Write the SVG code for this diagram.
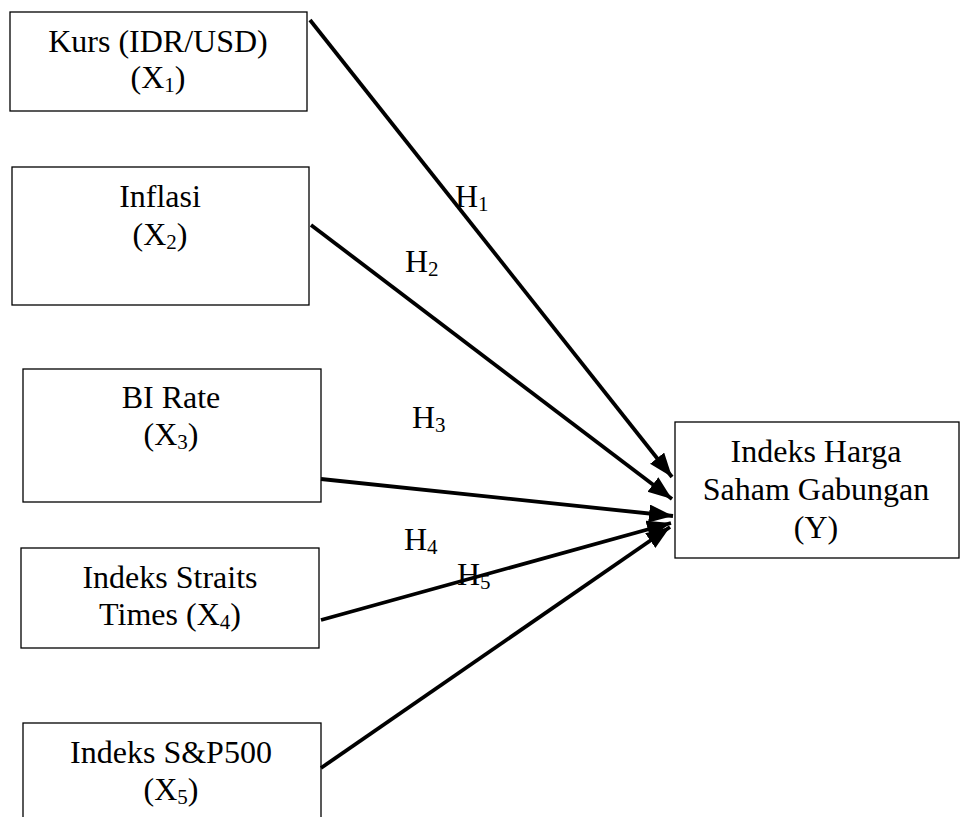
<svg xmlns="http://www.w3.org/2000/svg" width="960" height="817" viewBox="0 0 960 817">
<style>
.box{fill:#fff;stroke:#000;stroke-width:1.3}
.t{font-family:"Liberation Serif","Times New Roman",serif;font-size:32px;fill:#000;text-anchor:middle}
.l{font-family:"Liberation Serif","Times New Roman",serif;font-size:32px;fill:#000}
.s{font-size:21px}
.c{stroke:#000;stroke-width:3.8;fill:none;marker-end:url(#ah)}
</style>
<defs>
<marker id="ah" markerUnits="userSpaceOnUse" markerWidth="26" markerHeight="20" refX="24" refY="9" orient="auto">
<path d="M0,0 L24,9 L0,18 Z" fill="#000"/>
</marker>
</defs>
<rect width="960" height="817" fill="#fff"/>
<g id="x1">
<rect class="box" x="10" y="12" width="297" height="99"/>
<text class="t" x="158" y="52">Kurs (IDR/USD)</text>
<text class="t" x="158" y="88">(X<tspan class="s" dy="4">1</tspan><tspan dy="-4">)</tspan></text>
</g>
<g id="x2">
<rect class="box" x="12" y="167" width="297" height="138"/>
<text class="t" x="160" y="207">Inflasi</text>
<text class="t" x="160" y="245">(X<tspan class="s" dy="4">2</tspan><tspan dy="-4">)</tspan></text>
</g>
<g id="x3">
<rect class="box" x="23" y="369" width="298" height="133"/>
<text class="t" x="171" y="408">BI Rate</text>
<text class="t" x="171" y="445">(X<tspan class="s" dy="4">3</tspan><tspan dy="-4">)</tspan></text>
</g>
<g id="x4">
<rect class="box" x="21" y="548" width="298" height="100"/>
<text class="t" x="170" y="588">Indeks Straits</text>
<text class="t" x="170" y="625">Times (X<tspan class="s" dy="4">4</tspan><tspan dy="-4">)</tspan></text>
</g>
<g id="x5">
<rect class="box" x="23" y="723" width="298" height="110"/>
<text class="t" x="171" y="763">Indeks S&amp;P500</text>
<text class="t" x="171" y="800">(X<tspan class="s" dy="4">5</tspan><tspan dy="-4">)</tspan></text>
</g>
<g id="y">
<rect class="box" x="675" y="422" width="284" height="136"/>
<text class="t" x="816" y="462">Indeks Harga</text>
<text class="t" x="816" y="500">Saham Gabungan</text>
<text class="t" x="816" y="538">(Y)</text>
</g>
<g id="connectors">
<line class="c" x1="310" y1="20" x2="672" y2="477"/>
<line class="c" x1="311" y1="225" x2="672" y2="499"/>
<line class="c" x1="321" y1="479" x2="673" y2="516"/>
<line class="c" x1="321" y1="620" x2="671" y2="523"/>
<line class="c" x1="321" y1="768" x2="670" y2="527"/>
</g>
<g id="labels">
<text class="l" x="455" y="207">H<tspan class="s" dy="4">1</tspan></text>
<text class="l" x="405" y="272">H<tspan class="s" dy="4">2</tspan></text>
<text class="l" x="412" y="428">H<tspan class="s" dy="4">3</tspan></text>
<text class="l" x="404" y="550">H<tspan class="s" dy="4">4</tspan></text>
<text class="l" x="457" y="585">H<tspan class="s" dy="4">5</tspan></text>
</g>
</svg>
